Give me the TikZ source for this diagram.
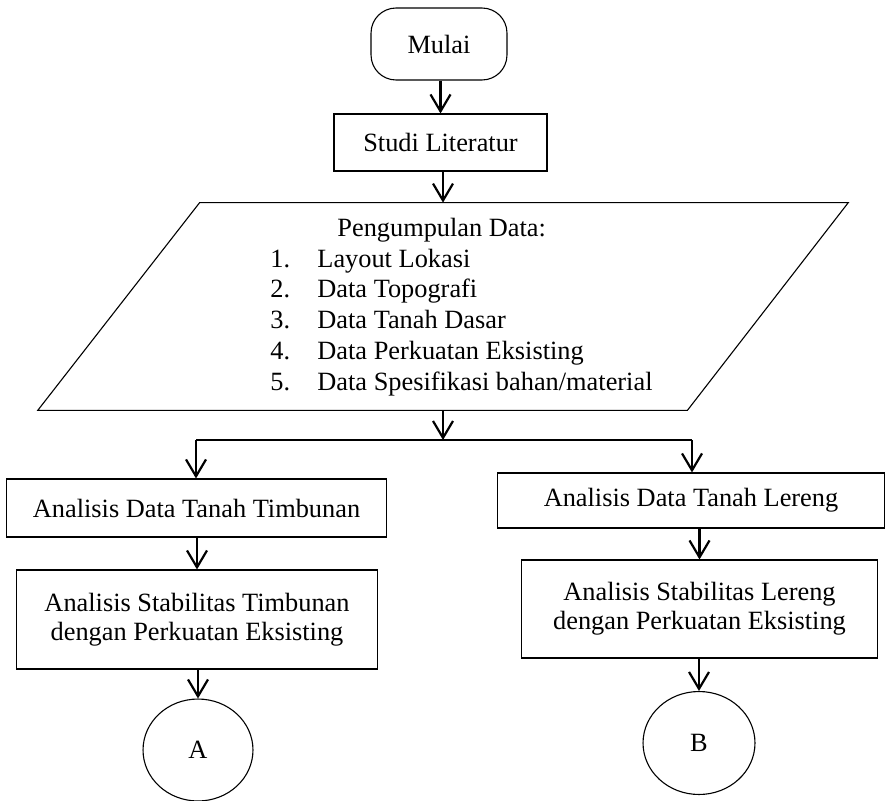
\documentclass[tikz,border=0pt]{standalone}
\usepackage{fontspec}
\setmainfont{Liberation Serif}
\usetikzlibrary{shapes.geometric,arrows.meta}

\begin{document}
\begin{tikzpicture}[x=0.016cm,y=-0.016cm,
    font=\fontsize{12}{13.3}\selectfont,
    box/.style={draw,line width=0.5pt,inner sep=0pt,align=center},
    arr/.style={line width=1pt,-{Straight Barb[length=0.27cm,width=0.32cm,line width=1pt]}}]

      \useasboundingbox (0,0) rectangle (895,800);

      \node[box,rounded corners=0.4cm,minimum width=2.176cm,minimum height=1.152cm] (mulai) at (439,44) {Mulai};
      \node[box,minimum width=3.408cm,minimum height=0.912cm] (studi) at (440.5,142.5) {Studi Literatur};
      \node[inner sep=0pt,minimum width=12.96cm,minimum height=3.312cm] (data) at (443,306.5) {};
      \draw[line width=0.5pt] (data.south west) -- ([xshift=2.592cm]data.north west) -- (data.north east)
            -- ([xshift=-2.576cm]data.south east) -- cycle;
      \node[anchor=base west,inner sep=0pt] (datatext) at (270,236.5) {\fontsize{12}{14}\selectfont
        \begin{tabular}[t]{@{}p{21.4pt}@{}l@{}}
          \multicolumn{2}{@{}l@{}}{\hspace{30.5pt}Pengumpulan Data:}\\
          1. & Layout Lokasi\\
          2. & Data Topografi\\
          3. & Data Tanah Dasar\\
          4. & Data Perkuatan Eksisting\\
          5. & Data Spesifikasi bahan/material
        \end{tabular}};

	\node[box,minimum width=6.096cm,minimum height=0.928cm] (timb) at (196.5,508) {Analisis Data Tanah Timbunan};
	\node[box,minimum width=5.792cm,minimum height=1.584cm] (stabT) at (197,619.5) {Analisis Stabilitas Timbunan\\dengan Perkuatan Eksisting};
	\node[box,ellipse,minimum width=1.76cm,minimum height=1.632cm] (conA) at (198,750) {A};

	\node[box,minimum width=6.208cm,minimum height=0.88cm] (lereng) at (691,500.5) {Analisis Data Tanah Lereng};
	\node[box,minimum width=5.712cm,minimum height=1.568cm] (stabL) at (699.5,609) {Analisis Stabilitas Lereng\\dengan Perkuatan Eksisting};
	\node[box,ellipse,minimum width=1.792cm,minimum height=1.648cm] (conB) at (699,743) {B};

      \coordinate (split) at (443,440);
      \coordinate (splitL) at (196,440);
      \coordinate (splitR) at (692,440);

      \draw[arr] (data.south) -- (split);
      \draw[line width=1pt] (splitL) -- (splitR);
      \draw[arr] (splitL) -- (splitL |- timb.north);
      \draw[arr] (splitR) -- (splitR |- lereng.north);

	\foreach \a/\b in {mulai/studi,studi/data,timb/stabT,stabT/conA,lereng/stabL,stabL/conB}{
   	   \draw[arr] (\b.north |- \a.south) -- (\b.north);
  	}
    \end{tikzpicture}
\end{document}
